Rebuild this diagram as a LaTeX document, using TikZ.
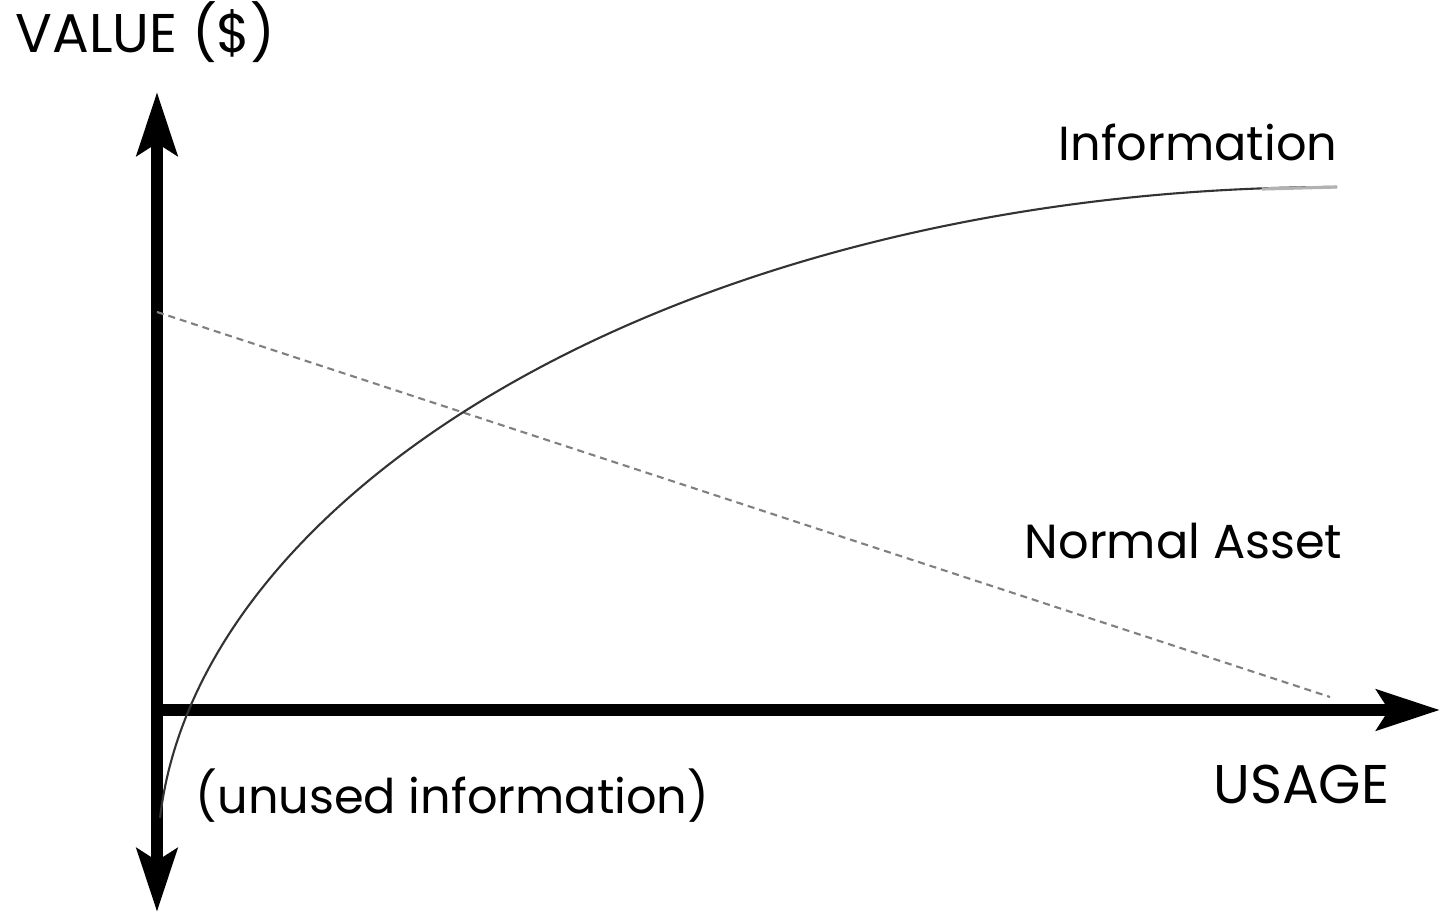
\documentclass[tikz,border=0pt]{standalone}
\usepackage{fontspec}
\setmainfont{Poppins}
\usepackage{tikz}
\usetikzlibrary{arrows.meta}

\begin{document}
\begin{tikzpicture}[
x = 0.01cm, y = -0.01cm,
  > = {Stealth[length = 0.63cm, width = 0.4cm, inset = 0.12cm]},
  axis/.style = {line width = 3.4pt},
  info/.style = {line width = 0.6pt, black!80},
  asset/.style = {line width = 0.6pt, gray, dash pattern = on 2pt off 1.4pt},
  caps/.style = {inner sep = 0pt, font = \fontsize{15.5}{17}\selectfont},
  label/.style = {inner sep = 0pt, font = \fontsize{13.6}{15}\selectfont}
]
\useasboundingbox (0,0) rectangle (1441,915);
% axes
\coordinate (vtop) at (157,92);
\coordinate (vbot) at (157,912);
\coordinate (hstart) at (151,710);
\coordinate (hend) at (1440,710);
\draw[axis, <->] (vbot) -- (vtop);
\draw[axis, ->] (hstart) -- (hend);
% normal asset
\coordinate (astart) at (157,312);
\coordinate (aend) at (1330,697);
\draw[asset] (astart) -- (aend);
% information
\coordinate (istart) at (160,818);
\coordinate (ifade) at (1262,189);
\coordinate (iend) at (1337,187);
\draw[info] (istart) .. controls (200,480) and (700,187) .. (iend);
\draw[line width = 0.9pt, gray!60] (ifade) -- (iend);
% labels
\node[caps, anchor = base west] (value) at (15,53) {VALUE (\$)};
\node[label, anchor = base east] (information) at (1338,160) {Information};
\node[label, anchor = base east] (normal) at (1343,558) {Normal Asset};
\node[caps, anchor = base east] (usage) at (1390,803) {USAGE};
\node[label, anchor = base west] (unused) at (195,813) {(unused information)};
\end{tikzpicture}
\end{document}
